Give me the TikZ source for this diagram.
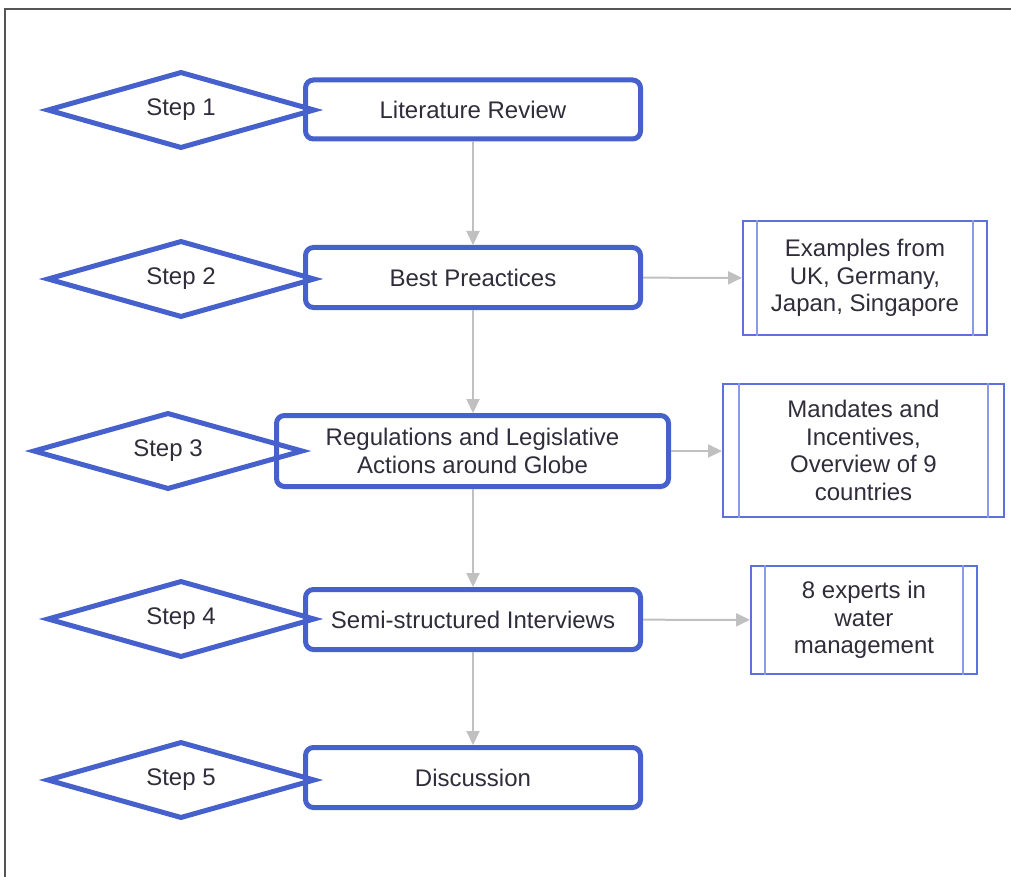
\documentclass[tikz,border=0pt]{standalone}
\usepackage{fontspec}
\setmainfont{Liberation Sans}
\usetikzlibrary{shapes.geometric,arrows.meta}
\definecolor{mainblue}{RGB}{70,96,204}
\definecolor{sideblue}{RGB}{92,112,222}
\definecolor{innerblue}{RGB}{140,155,232}
\definecolor{arrowgray}{RGB}{192,192,192}
\definecolor{txt}{RGB}{48,44,58}
\definecolor{framegray}{RGB}{85,85,85}
\tikzset{
  mainbox/.style={draw=mainblue, line width=5pt, rounded corners=8pt, inner sep=0pt, align=center, text=txt, font=\fontsize{24}{27.5}\selectfont},
  stepdiamond/.style={diamond, aspect=3.5, draw=mainblue, line width=5pt, inner sep=0pt, minimum width=268pt, minimum height=77pt, text=txt, font=\fontsize{24}{27.5}\selectfont},
  sidebox/.style={draw=sideblue, line width=2pt, inner sep=0pt, align=center, text=txt, font=\fontsize{24}{27.5}\selectfont},
  innerline/.style={draw=innerblue, line width=2pt},
  flow/.style={draw=arrowgray, line width=2pt, -{Triangle[length=14pt,width=13pt]}, arrowgray}
}
\begin{document}
\begin{tikzpicture}[x=1pt,y=-1pt]
\useasboundingbox (0,0) rectangle (1011,877);
\draw[framegray, line width=1.5pt] (5,877) -- (5,9) -- (1011,9);

% main boxes
\node[mainbox, minimum width=335pt, minimum height=59pt] (b1) at (473,109.5) {Literature Review};
\node[mainbox, minimum width=335pt, minimum height=60pt] (b2) at (473,277.5) {Best Preactices};
\node[mainbox, minimum width=392pt, minimum height=71pt] (b3) at (472.5,451) {Regulations and Legislative\\Actions around Globe};
\node[mainbox, minimum width=335pt, minimum height=60pt] (b4) at (473,619.5) {Semi-structured Interviews};
\node[mainbox, minimum width=335pt, minimum height=60pt] (b5) at (473,777.5) {Discussion};

% step diamonds
\node[stepdiamond] (s1) at (181,110) {Step 1};
\node[stepdiamond] (s2) at (181,279) {Step 2};
\node[stepdiamond, minimum width=270pt] (s3) at (168,451) {Step 3};
\node[stepdiamond] (s4) at (181,619) {Step 4};
\node[stepdiamond] (s5) at (181,780) {Step 5};

% side boxes
\node[sidebox, minimum width=244pt, minimum height=114pt] (a) at (865,278) {Examples from\\UK, Germany,\\Japan, Singapore};
\node[sidebox, minimum width=281pt, minimum height=133pt] (b) at (863.5,450.5) {Mandates and\\Incentives,\\Overview of 9\\countries};
\node[sidebox, minimum width=226pt, minimum height=108pt] (c) at (864,620) {8 experts in\\water\\management};
\draw[innerline] ([xshift=15pt]a.north west) -- ([xshift=15pt]a.south west);
\draw[innerline] ([xshift=-15pt]a.north east) -- ([xshift=-15pt]a.south east);
\draw[innerline] ([xshift=17pt]b.north west) -- ([xshift=17pt]b.south west);
\draw[innerline] ([xshift=-17pt]b.north east) -- ([xshift=-17pt]b.south east);
\draw[innerline] ([xshift=15pt]c.north west) -- ([xshift=15pt]c.south west);
\draw[innerline] ([xshift=-15pt]c.north east) -- ([xshift=-15pt]c.south east);

% connectors
\draw[flow] (b1) -- (b2);
\draw[flow] (b2) -- (b3.north -| b2.south);
\draw[flow] (b3.south -| b4.north) -- (b4);
\draw[flow] (b4) -- (b5);
\draw[flow] (b2) -- (a);
\draw[flow] (b3.east) -- (b.west |- b3.east);
\draw[flow] (b4) -- (c);
\end{tikzpicture}
\end{document}
